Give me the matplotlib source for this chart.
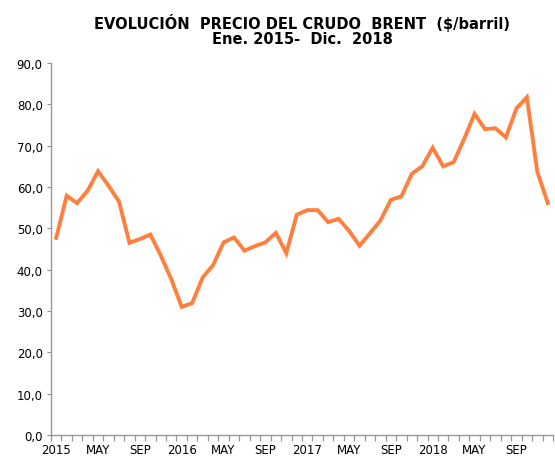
import matplotlib
matplotlib.use('Agg')
import matplotlib.pyplot as plt
from matplotlib.ticker import FuncFormatter

meses = ['2015', 'FEB', 'MAR', 'ABR', 'MAY', 'JUN', 'JUL', 'AGO', 'SEP', 'OCT', 'NOV', 'DIC'] + \
        ['2016', 'FEB', 'MAR', 'ABR', 'MAY', 'JUN', 'JUL', 'AGO', 'SEP', 'OCT', 'NOV', 'DIC'] + \
        ['2017', 'FEB', 'MAR', 'ABR', 'MAY', 'JUN', 'JUL', 'AGO', 'SEP', 'OCT', 'NOV', 'DIC'] + \
        ['2018', 'FEB', 'MAR', 'ABR', 'MAY', 'JUN', 'JUL', 'AGO', 'SEP', 'OCT', 'NOV', 'DIC']

precio_2015 = [47.7, 57.9, 56.1, 59.1, 63.8, 60.3, 56.5, 46.5, 47.4, 48.5, 43.4, 37.7]
precio_2016 = [31.0, 31.9, 38.1, 41.1, 46.6, 47.8, 44.6, 45.7, 46.6, 48.9, 44.0, 53.3]
precio_2017 = [54.4, 54.4, 51.5, 52.3, 49.4, 45.8, 48.8, 51.9, 56.9, 57.7, 63.2, 65.0]
precio_2018 = [69.5, 65.0, 66.0, 71.6, 77.7, 74.0, 74.2, 72.0, 79.0, 81.7, 63.7, 56.1]

precios = precio_2015 + precio_2016 + precio_2017 + precio_2018
x = list(range(len(precios)))

fig = plt.figure(figsize=(5.55, 4.6), dpi=100)
ax = fig.add_axes([51 / 555, 1 - 436 / 460, 502 / 555, 372 / 460])

ax.plot(x, precios, color='#FF7F3F', linewidth=2.8, solid_joinstyle='miter')

ax.set_xlim(-0.5, len(precios) - 0.5)
ax.set_ylim(0, 90)
ax.set_yticks(range(0, 91, 10))
ax.yaxis.set_major_formatter(FuncFormatter(lambda v, p: f'{v:.1f}'.replace('.', ',')))

etiquetas = [i for i in x if i % 4 == 0]
ax.set_xticks(etiquetas)
ax.set_xticklabels([meses[i] for i in etiquetas])
ax.set_xticks([i - 0.5 for i in range(len(precios) + 1)], minor=True)
ax.tick_params(axis='x', which='major', length=0, pad=6, labelsize=8.5)
ax.tick_params(axis='x', which='minor', length=4, width=0.9, color='#999999')
ax.tick_params(axis='y', length=3, width=0.9, color='#999999', labelsize=8.5, pad=3)

for s in ['top', 'right']:
    ax.spines[s].set_visible(False)
for s in ['left', 'bottom']:
    ax.spines[s].set_color('#999999')
    ax.spines[s].set_linewidth(1.0)

fig.text(0.545, 1 - 23 / 460, 'EVOLUCIÓN  PRECIO DEL CRUDO  BRENT  ($/barril)',
         ha='center', va='center', fontsize=10.5, fontweight='bold')
fig.text(0.545, 1 - 40 / 460, 'Ene. 2015-  Dic.  2018',
         ha='center', va='center', fontsize=10.5, fontweight='bold')

fig.savefig('out.png', dpi=100)
